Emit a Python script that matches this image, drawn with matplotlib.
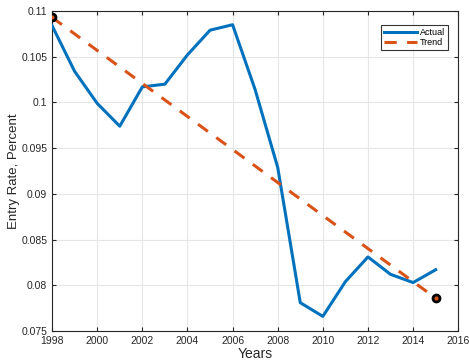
import matplotlib
matplotlib.use("Agg")
import matplotlib.pyplot as plt

plt.rcParams['font.family'] = ['Liberation Sans', 'DejaVu Sans']

years = list(range(1998, 2016))
actual = [0.1084, 0.1034, 0.0999, 0.0974, 0.1017, 0.1020, 0.1052, 0.1079, 0.1085,
          0.1014, 0.0929, 0.0781, 0.0766, 0.0804, 0.0831, 0.0812, 0.0803, 0.0817]
trend_years = [1998, 2015]
trend_vals = [0.1093, 0.0786]

blue = "#0072BD"
orange = "#D95319"

fig = plt.figure(figsize=(4.69, 3.62), dpi=100)
ax = fig.add_axes([0.111, 0.0856, 0.866, 0.884])
ax.plot(years, actual, color=blue, lw=2.2, label="Actual", zorder=3)
ax.plot(trend_years, trend_vals, color=orange, lw=2.2, ls=(0, (4, 3.4)), label="Trend", zorder=3)
ax.plot(trend_years, trend_vals, ls="none", marker="o", ms=5, mfc=orange, mec="black", mew=2, zorder=4)

ax.set_xlim(1998, 2016)
ax.set_ylim(0.075, 0.11)
ax.set_xticks(range(1998, 2017, 2))
yt = [0.075, 0.08, 0.085, 0.09, 0.095, 0.1, 0.105, 0.11]
ax.set_yticks(yt)
ax.set_yticklabels(["0.075", "0.08", "0.085", "0.09", "0.095", "0.1", "0.105", "0.11"])
ax.tick_params(direction="in", labelsize=7.5, length=3, top=True, right=True, colors="#262626")
ax.grid(True, color="#e6e6e6", lw=0.8)
ax.set_axisbelow(True)
for s in ax.spines.values():
    s.set_color("#262626")
    s.set_linewidth(0.8)
ax.set_xlabel("Years", fontsize=10, color="#262626", labelpad=1)
ax.set_ylabel("Entry Rate, Percent", fontsize=9.5, color="#262626", labelpad=1)
leg = ax.legend(loc="upper right", fontsize=6.5, frameon=True, fancybox=False,
                edgecolor="black", handlelength=3.6, handletextpad=0.4,
                bbox_to_anchor=(0.975, 0.955), borderaxespad=0, borderpad=0.3,
                labelspacing=0.15)
leg.get_frame().set_linewidth(0.8)
fig.savefig("out.png", dpi=100)
